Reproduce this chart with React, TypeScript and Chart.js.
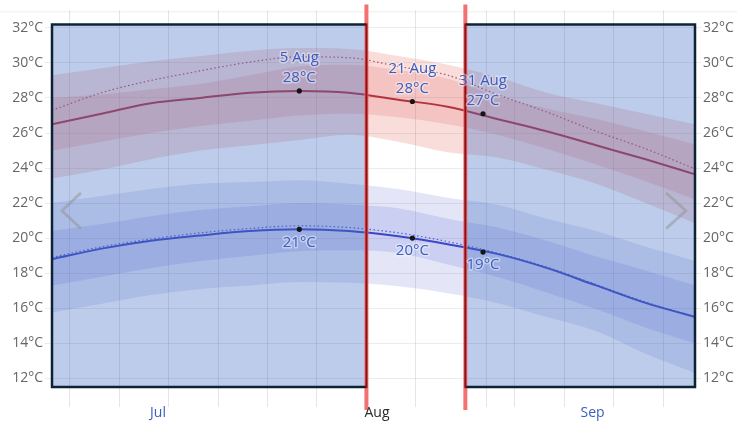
import React, { useEffect, useRef } from 'react';
import { Chart, registerables } from 'chart.js';

Chart.register(...registerables);

// Day index: 0 = 1 Jul 00:00, 31 = 1 Aug, 62 = 1 Sep
const DAYS = [0.5, 7.5, 14.5, 21.5, 28.5, 35.5, 42.5, 49.5, 56.5, 63.5, 70.5, 77.5, 84.5, 91.5];
const HIGH_P90 = [29.3, 29.7, 30.1, 30.4, 30.7, 30.85, 30.8, 30.4, 29.9, 29.2, 28.3, 27.7, 27.1, 26.5];
const HIGH_P75 = [28.0, 28.2, 28.5, 28.8, 29.3, 29.8, 29.9, 29.6, 29.1, 28.1, 27.4, 26.8, 26.1, 25.35];
const HIGH_AVG = [26.5, 27.1, 27.7, 28.0, 28.3, 28.4, 28.3, 27.9, 27.5, 26.8, 26.1, 25.3, 24.5, 23.65];
const HIGH_FEEL = [27.3, 28.3, 29.0, 29.55, 30.05, 30.35, 30.3, 29.8, 29.3, 28.2, 27.2, 26.1, 25.1, 23.95];
const HIGH_P25 = [25.0, 25.5, 26.0, 26.4, 26.7, 27.0, 27.1, 26.9, 26.5, 25.9, 25.1, 24.2, 23.25, 22.2];
const HIGH_P10 = [23.4, 23.9, 24.5, 25.0, 25.3, 25.6, 25.9, 25.5, 24.9, 24.6, 23.9, 23.1, 22.0, 20.85];
const LOW_P90 = [22.0, 22.4, 22.8, 23.1, 23.2, 23.3, 23.1, 22.8, 22.3, 21.9, 21.1, 20.4, 19.5, 18.7];
const LOW_P75 = [20.4, 20.8, 21.25, 21.6, 21.8, 22.0, 21.9, 21.7, 21.1, 20.6, 19.85, 18.95, 18.15, 17.3];
const LOW_AVG = [18.8, 19.4, 19.85, 20.15, 20.4, 20.5, 20.4, 20.1, 19.65, 19.1, 18.3, 17.3, 16.3, 15.5];
const LOW_FEEL = [18.9, 19.5, 19.95, 20.3, 20.55, 20.7, 20.6, 20.3, 19.8, 19.15, 18.35, 17.35, 16.35, 15.5];
const LOW_P25 = [17.3, 17.8, 18.3, 18.7, 19.0, 19.25, 19.3, 19.15, 18.5, 17.8, 16.9, 15.95, 14.9, 14.0];
const LOW_P10 = [15.75, 16.25, 16.75, 17.1, 17.3, 17.5, 17.45, 17.25, 16.85, 16.3, 15.5, 14.7, 13.4, 12.3];

const MARK_DAYS = [35.5, 51.5, 61.5];
const MARK_DATES = ['5 Aug', '21 Aug', '31 Aug'];
const MARK_HIGH = [28.4, 27.8, 27.1];
const MARK_LOW = [20.5, 20.0, 19.2];

const TEMP_TICKS = [12, 14, 16, 18, 20, 22, 24, 26, 28, 30, 32];
const GRID_DAYS = [3, 10, 17, 24, 31, 38, 45, 52, 59, 62, 66, 73, 80, 87];
const MONTHS = ['Jul', 'Aug', 'Sep'];
const MONTH_MIDS = [15.5, 46.5, 77];
const SELECTED_MONTH = 'Aug';
const SELECT_START = 45; // 15 Aug
const SELECT_END = 59; // 29 Aug

const X_MIN = 0.5;
const X_MAX = 91.5;
const Y_MIN = 11.5;
const Y_MAX = 33;
const OVERLAY_TOP = 32.2;

const FONT = '"Open Sans", "Noto Sans", sans-serif';

const pts = (arr: number[]) => DAYS.map((d, i) => ({ x: d, y: arr[i] }));

const overlayPlugin = {
  id: 'overlayPlugin',
  beforeDraw(chart: any) {
    const { ctx, chartArea: ca } = chart;
    ctx.save();
    ctx.fillStyle = '#ffffff';
    ctx.fillRect(0, 0, chart.width, chart.height);
    ctx.strokeStyle = 'rgba(0,0,0,0.07)';
    ctx.lineWidth = 1;
    ctx.beginPath();
    ctx.moveTo(0, ca.top + 1.5);
    ctx.lineTo(chart.width, ca.top + 1.5);
    ctx.stroke();
    ctx.restore();
  },
  afterDatasetsDraw(chart: any) {
    const { ctx, chartArea: ca, scales } = chart;
    const x = scales.x;
    const y = scales.y;
    const xs = x.getPixelForValue(SELECT_START);
    const xe = x.getPixelForValue(SELECT_END);
    const top = y.getPixelForValue(OVERLAY_TOP);
    const bottom = ca.bottom;
    ctx.save();
    // shaded overlays
    ctx.fillStyle = 'rgba(66,108,196,0.35)';
    ctx.fillRect(ca.left, top, xs - ca.left, bottom - top);
    ctx.fillRect(xe, top, ca.right - xe, bottom - top);

    // red selection lines
    ctx.strokeStyle = 'rgba(242,105,105,0.95)';
    ctx.lineWidth = 4;
    for (const xv of [xs, xe]) {
      ctx.beginPath();
      ctx.moveTo(xv, ca.top - 6);
      ctx.lineTo(xv, ca.bottom + 23);
      ctx.stroke();
    }

    // overlay borders
    ctx.lineWidth = 2.5;
    ctx.strokeStyle = '#0e2236';
    ctx.beginPath();
    ctx.moveTo(xs, top);
    ctx.lineTo(ca.left, top);
    ctx.lineTo(ca.left, bottom);
    ctx.lineTo(xs, bottom);
    ctx.stroke();
    ctx.beginPath();
    ctx.moveTo(xe, top);
    ctx.lineTo(ca.right, top);
    ctx.lineTo(ca.right, bottom);
    ctx.lineTo(xe, bottom);
    ctx.stroke();
    ctx.strokeStyle = '#8c1016';
    ctx.lineWidth = 2;
    for (const xv of [xs, xe]) {
      ctx.beginPath();
      ctx.moveTo(xv, top - 1);
      ctx.lineTo(xv, bottom + 1);
      ctx.stroke();
    }

    // navigation chevrons
    const midY = ca.top + (ca.bottom - ca.top) * 0.532;
    ctx.strokeStyle = 'rgba(150,150,155,0.55)';
    ctx.lineWidth = 3;
    ctx.lineCap = 'round';
    ctx.lineJoin = 'round';
    ctx.beginPath();
    ctx.moveTo(ca.left + 28, midY - 17);
    ctx.lineTo(ca.left + 10, midY);
    ctx.lineTo(ca.left + 28, midY + 17);
    ctx.stroke();
    ctx.beginPath();
    ctx.moveTo(ca.right - 28, midY - 17);
    ctx.lineTo(ca.right - 9, midY);
    ctx.lineTo(ca.right - 28, midY + 17);
    ctx.stroke();

    // markers
    ctx.fillStyle = '#141414';
    MARK_DAYS.forEach((d, i) => {
      const px = x.getPixelForValue(d);
      for (const v of [MARK_HIGH[i], MARK_LOW[i]]) {
        ctx.beginPath();
        ctx.arc(px, y.getPixelForValue(v), 2.6, 0, Math.PI * 2);
        ctx.fill();
      }
    });

    // labels
    ctx.font = `15px ${FONT}`;
    ctx.textAlign = 'center';
    ctx.textBaseline = 'middle';
    ctx.lineWidth = 3;
    ctx.lineJoin = 'round';
    const drawLabel = (t: string, px: number, py: number) => {
      ctx.strokeStyle = 'rgba(255,255,255,0.4)';
      ctx.strokeText(t, px, py);
      ctx.fillStyle = '#3b5cc0';
      ctx.fillText(t, px, py);
    };
    MARK_DAYS.forEach((d, i) => {
      const px = x.getPixelForValue(d);
      const hy = y.getPixelForValue(MARK_HIGH[i]);
      const ly = y.getPixelForValue(MARK_LOW[i]);
      drawLabel(MARK_DATES[i], px, hy - 33);
      drawLabel(`${Math.round(MARK_HIGH[i])}°C`, px, hy - 13);
      drawLabel(`${Math.round(MARK_LOW[i])}°C`, px, ly + 13);
    });

    // month labels
    ctx.font = `14px ${FONT}`;
    MONTHS.forEach((m, i) => {
      const px = x.getPixelForValue(MONTH_MIDS[i]);
      ctx.fillStyle = m === SELECTED_MONTH ? '#2b2b2b' : '#3a5fbf';
      ctx.fillText(m, px, ca.bottom + 26);
    });
    ctx.restore();
  },
};

export default function App() {
  const ref = useRef<HTMLCanvasElement | null>(null);

  useEffect(() => {
    document.body.style.margin = '0';
    const canvas = ref.current;
    if (!canvas) return;

    const band = (data: number[], fill: number | false, color: string, order: number) => ({
      data: pts(data),
      borderWidth: 0,
      pointRadius: 0,
      backgroundColor: color,
      borderColor: 'transparent',
      fill,
      order,
      cubicInterpolationMode: 'monotone' as const,
    });
    const line = (data: number[], color: string, width: number, dash: number[], order: number) => ({
      data: pts(data),
      borderWidth: width,
      borderColor: color,
      borderDash: dash,
      pointRadius: 0,
      fill: false,
      order,
      cubicInterpolationMode: 'monotone' as const,
    });

    const yTicks = (axis: any) => {
      axis.ticks = TEMP_TICKS.map((v) => ({ value: v }));
    };

    const chart = new Chart(canvas, {
      type: 'line',
      data: {
        datasets: [
          band(HIGH_P90, 1, 'rgba(222,85,75,0.2)', 10),
          band(HIGH_P10, false, 'transparent', 10),
          band(HIGH_P75, 3, 'rgba(222,85,75,0.18)', 9),
          band(HIGH_P25, false, 'transparent', 9),
          band(LOW_P90, 5, 'rgba(105,115,215,0.18)', 10),
          band(LOW_P10, false, 'transparent', 10),
          band(LOW_P75, 7, 'rgba(105,115,215,0.2)', 9),
          band(LOW_P25, false, 'transparent', 9),
          line(HIGH_FEEL, 'rgba(190,60,80,0.9)', 1.2, [1.5, 2.5], 2),
          line(LOW_FEEL, 'rgba(70,80,200,0.9)', 1.2, [1.5, 2.5], 2),
          line(HIGH_AVG, '#b3333f', 2, [], 1),
          line(LOW_AVG, '#3b47c4', 2, [], 1),
        ] as any,
      },
      options: {
        responsive: false,
        animation: false,
        devicePixelRatio: 1,
        layout: { padding: { top: 9, left: 0, right: 0, bottom: 0 } },
        plugins: { legend: { display: false }, tooltip: { enabled: false } },
        scales: {
          x: {
            type: 'linear',
            min: X_MIN,
            max: X_MAX,
            afterBuildTicks: (axis: any) => {
              axis.ticks = GRID_DAYS.map((v) => ({ value: v }));
            },
            afterFit: (axis: any) => {
              axis.height = 36;
            },
            ticks: { display: false },
            grid: { color: 'rgba(0,0,0,0.1)', tickLength: 20, lineWidth: 1 },
            border: { display: false },
          },
          y: {
            type: 'linear',
            position: 'left',
            min: Y_MIN,
            max: Y_MAX,
            afterBuildTicks: yTicks,
            afterFit: (axis: any) => {
              axis.width = 52;
            },
            ticks: {
              padding: 2,
              color: '#666666',
              font: { family: FONT, size: 14 },
              callback: (v: any) => `${v}°C`,
            },
            grid: { color: 'rgba(0,0,0,0.08)', tickLength: 7 },
            border: { display: false },
          },
          y2: {
            type: 'linear',
            position: 'right',
            min: Y_MIN,
            max: Y_MAX,
            afterBuildTicks: yTicks,
            afterFit: (axis: any) => {
              axis.width = 42;
            },
            ticks: {
              padding: 2,
              color: '#666666',
              font: { family: FONT, size: 14 },
              callback: (v: any) => `${v}°C`,
            },
            grid: { color: 'rgba(0,0,0,0.08)', tickLength: 6, drawOnChartArea: false },
            border: { display: false },
          },
        },
      } as any,
      plugins: [overlayPlugin],
    });

    return () => chart.destroy();
  }, []);

  return (
    <div style={{ width: 737, height: 423 }}>
      <canvas ref={ref} width={737} height={423} style={{ display: 'block' }} />
    </div>
  );
}
